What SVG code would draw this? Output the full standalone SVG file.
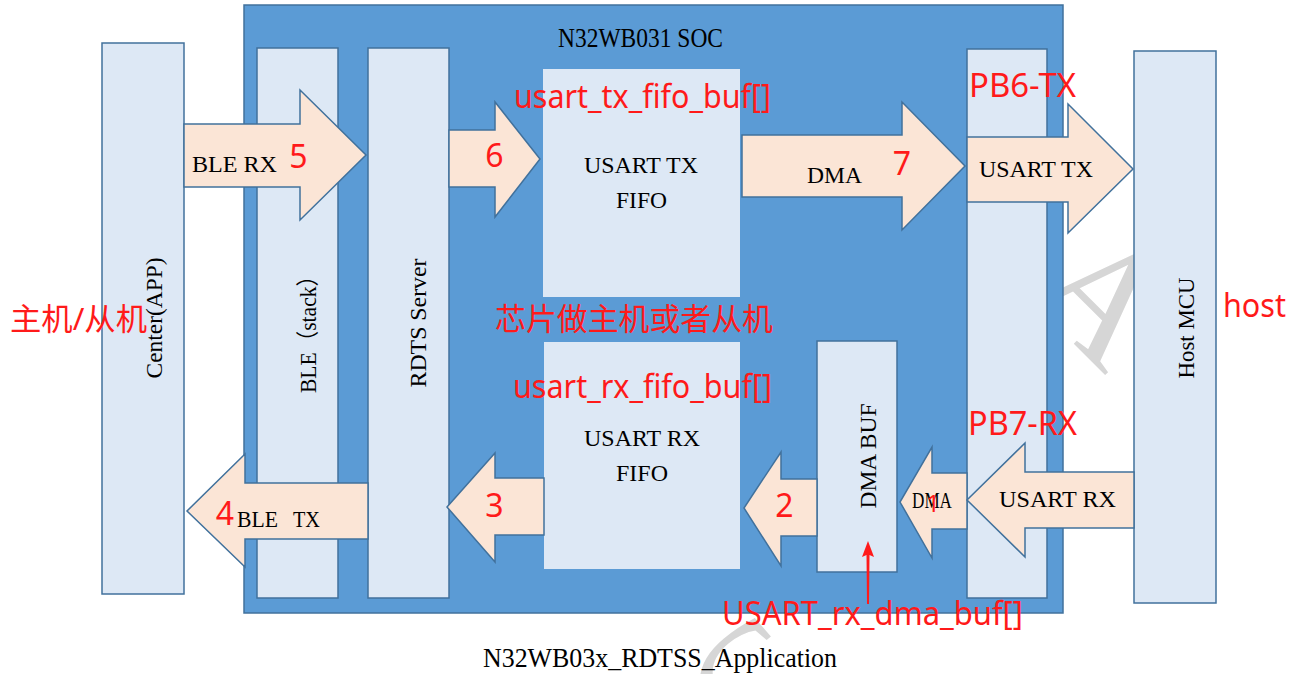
<svg xmlns="http://www.w3.org/2000/svg" width="1296" height="674" viewBox="0 0 1296 674">
<style>
.box{fill:#dde8f5;stroke:#41719c;stroke-width:1.5}
.fifo{fill:#dde8f5;stroke:none}
.arw{fill:#fbe5d6;stroke:#41719c;stroke-width:1.5;stroke-linejoin:miter}
.t{font-family:"Liberation Serif","Times New Roman",serif;font-size:23px;fill:#000}
.m{font-family:"Liberation Serif","Noto Sans CJK SC",serif;font-size:27px;fill:#000}
.r{font-family:"Noto Sans","Noto Sans CJK SC",sans-serif;font-size:32px;fill:#ff1a1a}
.wm{font-family:"Liberation Serif",serif;fill:#d6d6d6}
</style>
<defs>
<clipPath id="uc"><rect x="1018" y="280" width="15" height="90"/></clipPath>
</defs>
<rect width="1296" height="674" fill="#fff"/>
<g id="watermark">
<text class="wm" font-size="160" text-anchor="middle" transform="translate(1065,335) rotate(45)">A</text>
<text class="wm" font-size="170" text-anchor="middle" transform="translate(790,730) rotate(-40)">C</text>
</g>
<g id="soc">
<rect x="244" y="5" width="819" height="608" fill="#5b9bd5" stroke="#41719c" stroke-width="1.5"/>
<text class="m" x="558" y="47" textLength="165" lengthAdjust="spacingAndGlyphs">N32WB031 SOC</text>
</g>
<g id="center-app">
<rect class="box" x="102" y="43" width="82" height="551"/>
<text class="t" text-anchor="middle" transform="translate(162,318) rotate(-90)" textLength="121" lengthAdjust="spacingAndGlyphs">Center(APP)</text>
</g>
<g id="ble-stack">
<rect class="box" x="257" y="48" width="81" height="550"/>
<text class="t" text-anchor="middle" transform="translate(316,329) rotate(-90)" style="font-family:'Liberation Serif','Noto Sans CJK SC',serif" textLength="128" lengthAdjust="spacingAndGlyphs">BLE（stack）</text>
</g>
<g id="rdts-server">
<rect class="box" x="368" y="48" width="81" height="550"/>
<text class="t" text-anchor="middle" transform="translate(426,323) rotate(-90)" textLength="129" lengthAdjust="spacingAndGlyphs">RDTS Server</text>
</g>
<g id="usart-tx-fifo">
<rect class="fifo" x="543" y="69" width="197" height="228"/>
<text class="t" x="584" y="173" textLength="114" lengthAdjust="spacingAndGlyphs">USART TX</text>
<text class="t" x="616" y="208" textLength="51" lengthAdjust="spacingAndGlyphs">FIFO</text>
</g>
<g id="usart-rx-fifo">
<rect class="fifo" x="544" y="342" width="196" height="227"/>
<text class="t" x="584" y="446" textLength="116" lengthAdjust="spacingAndGlyphs">USART RX</text>
<text class="t" x="616" y="481" textLength="52" lengthAdjust="spacingAndGlyphs">FIFO</text>
</g>
<g id="dma-buf">
<rect class="box" x="817" y="341" width="80" height="231"/>
<text class="t" text-anchor="middle" transform="translate(876,456) rotate(-90)" textLength="105" lengthAdjust="spacingAndGlyphs">DMA BUF</text>
</g>
<g id="usart">
<rect class="box" x="967" y="49" width="80" height="549"/>
<text class="t" text-anchor="middle" clip-path="url(#uc)" transform="translate(1040,323) rotate(-90)" textLength="70" lengthAdjust="spacingAndGlyphs">USART</text>
</g>
<g id="host-mcu">
<rect class="box" x="1134" y="51" width="82" height="552"/>
<text class="t" text-anchor="middle" transform="translate(1194,328) rotate(-90)" textLength="101" lengthAdjust="spacingAndGlyphs">Host MCU</text>
</g>
<g id="connectors">
<polygon class="arw" points="184,124 300,124 300,90 366,155 300,220 300,187 184,187"/>
<polygon class="arw" points="449,130 495,130 495,102 540,159 495,217 495,187 449,187"/>
<polygon class="arw" points="742,135 902,135 902,102 965,166 902,230 902,197 742,197"/>
<polygon class="arw" points="967,137 1068,137 1068,104 1133,169 1068,233 1068,202 967,202"/>
<polygon class="arw" points="368,483 245,483 245,454 187,511 245,567 245,539 368,539"/>
<polygon class="arw" points="544,478 495,478 495,453 447,507 495,562 495,535 544,535"/>
<polygon class="arw" points="817,479 781,479 781,452 744,508 781,566 781,536 817,536"/>
<polygon class="arw" points="967,473 932,473 932,447 900,502 932,558 932,529 967,529"/>
<polygon class="arw" points="1134,472 1025,472 1025,443 967,500 1025,557 1025,528 1134,528"/>
<polygon points="868,541 874,557 869.5,555 869,604 867,604 866.5,555 862,557" fill="#ff1a1a"/>
</g>
<g id="arrow-labels">
<text class="t" x="192" y="172" textLength="85" lengthAdjust="spacingAndGlyphs">BLE RX</text>
<text class="t" x="807" y="183" textLength="55" lengthAdjust="spacingAndGlyphs">DMA</text>
<text class="t" x="979" y="177" textLength="114" lengthAdjust="spacingAndGlyphs">USART TX</text>
<text class="t" y="527"><tspan x="237" textLength="41" lengthAdjust="spacingAndGlyphs">BLE</tspan><tspan x="293" textLength="27" lengthAdjust="spacingAndGlyphs">TX</tspan></text>
<text class="t" x="912" y="508" textLength="40" lengthAdjust="spacingAndGlyphs">DMA</text>
<text class="t" x="999" y="507" textLength="117" lengthAdjust="spacingAndGlyphs">USART RX</text>
</g>
<g id="annotations">
<text class="r" x="298.5" y="168" text-anchor="middle">5</text>
<text class="r" x="494.5" y="167" text-anchor="middle">6</text>
<text class="r" x="902" y="175" text-anchor="middle">7</text>
<text class="r" x="225" y="525" text-anchor="middle">4</text>
<text class="r" x="494.5" y="517" text-anchor="middle">3</text>
<text class="r" x="784.5" y="517" text-anchor="middle">2</text>
<text class="r" x="933" y="512" text-anchor="middle" style="font-size:24px">1</text>
<text class="r" x="514" y="108" textLength="257" lengthAdjust="spacingAndGlyphs">usart_tx_fifo_buf[]</text>
<text class="r" x="513" y="398" textLength="259" lengthAdjust="spacingAndGlyphs">usart_rx_fifo_buf[]</text>
<text class="r" x="722" y="625" textLength="301" lengthAdjust="spacingAndGlyphs">USART_rx_dma_buf[]</text>
<text class="r" x="969" y="97" textLength="107" lengthAdjust="spacingAndGlyphs">PB6-TX</text>
<text class="r" x="968" y="435" textLength="109" lengthAdjust="spacingAndGlyphs">PB7-RX</text>
<text class="r" x="1223" y="317" textLength="63" lengthAdjust="spacingAndGlyphs">host</text>
<text class="r" x="10" y="330" style="font-size:31px" textLength="137" lengthAdjust="spacingAndGlyphs">主机/从机</text>
<text class="r" x="495" y="330" style="font-size:31px" textLength="278" lengthAdjust="spacingAndGlyphs">芯片做主机或者从机</text>
</g>
<text class="m" x="483" y="667" textLength="354" lengthAdjust="spacingAndGlyphs">N32WB03x_RDTSS_Application</text>
</svg>
